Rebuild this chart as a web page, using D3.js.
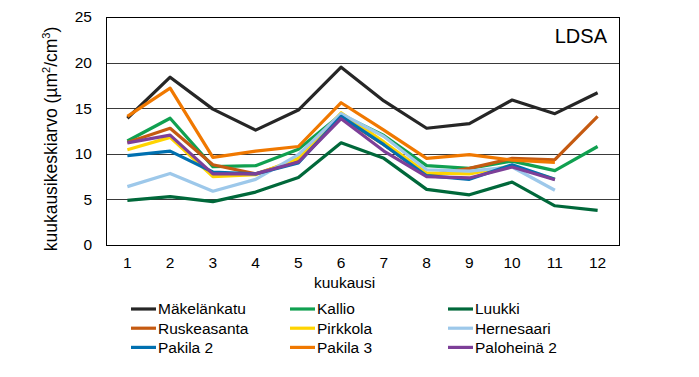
<!DOCTYPE html>
<html>
<head>
<meta charset="utf-8">
<script src="https://cdn.jsdelivr.net/npm/d3@7"></script>
<style>
  body { margin: 0; background: #fff; }
  text { font-family: "Liberation Sans", Arial, sans-serif; fill: #000; }
</style>
</head>
<body>
<div id="chart"></div>
<script>
// monthly means, LDSA (um2/cm3)
var months = [ 1, 2, 3, 4, 5, 6, 7, 8, 9, 10, 11, 12 ];
var yTicks = [ 0, 5, 10, 15, 20, 25 ];

var makelankatu = [ 13.9, 18.4, 14.9, 12.6, 14.8, 19.5, 15.8, 12.8, 13.3, 15.9, 14.4, 16.7 ];
var kallio      = [ 11.4, 13.9, 8.6, 8.7, 10.5, 14.3, 12.0, 8.7, 8.4, 9.2, 8.15, 10.8 ];
var luukki      = [ 4.9, 5.3, 4.75, 5.8, 7.4, 11.2, 9.5, 6.1, 5.5, 6.9, 4.3, 3.8 ];
var ruskeasanta = [ 11.25, 12.8, 8.8, 7.8, 9.3, 14.0, 11.0, 7.6, 8.4, 9.5, 9.35, 14.1 ];
var pirkkola    = [ 10.45, 11.8, 7.5, 7.7, 9.5, 14.5, 11.3, 7.9, 7.8, 8.7, 7.2, null ];
var hernesaari  = [ 6.4, 7.85, 5.9, 7.2, 9.9, 14.4, 11.9, 8.25, 8.1, 8.55, 6.0, null ];
var pakila2     = [ 9.8, 10.3, 8.0, 7.8, 9.0, 14.1, 11.0, 7.6, 7.2, 8.8, 7.2, null ];
var pakila3     = [ 14.1, 17.2, 9.6, 10.3, 10.8, 15.6, 12.6, 9.5, 9.9, 9.3, 9.05, null ];
var paloheina2  = [ 11.2, 12.05, 7.8, 7.8, 9.1, 13.85, 10.3, 7.5, 7.35, 8.55, 7.15, null ];

var seriesNames = [ "Mäkelänkatu", "Kallio", "Luukki", "Ruskeasanta", "Pirkkola", "Hernesaari", "Pakila 2", "Pakila 3", "Paloheinä 2" ];
var seriesValues = [ makelankatu, kallio, luukki, ruskeasanta, pirkkola, hernesaari, pakila2, pakila3, paloheina2 ];
var seriesColors = [ "#262626", "#10a050", "#00683a", "#c55a11", "#ffd400", "#9dc8ea", "#0070b0", "#f07800", "#7d3f98" ];

var width = 699, height = 377;
var margin = { top: 17, right: 80, bottom: 132, left: 106 };
var innerWidth = width - margin.left - margin.right,
  innerHeight = height - margin.top - margin.bottom;

var svg = d3.select( "#chart" ).append( "svg" )
  .attr( "width", width )
  .attr( "height", height );

var g = svg.append( "g" )
  .attr( "transform", "translate(" + margin.left + "," + margin.top + ")" );

var x = d3.scaleBand().domain( months ).range( [ 0, innerWidth ] );
var y = d3.scaleLinear().domain( [ 0, 25 ] ).range( [ innerHeight, 0 ] );

// gridlines
g.selectAll( ".grid" )
  .data( yTicks.filter( d => d > 0 && d < 25 ) )
  .enter().append( "line" )
    .attr( "class", "grid" )
    .attr( "x1", 0 )
    .attr( "x2", innerWidth )
    .attr( "y1", d => Math.round( y( d ) ) + 0.5 )
    .attr( "y2", d => Math.round( y( d ) ) + 0.5 )
    .style( "stroke", "#3a3a3a" )
    .style( "stroke-width", 1 );

// y tick labels
g.selectAll( ".ylab" )
  .data( yTicks )
  .enter().append( "text" )
    .attr( "class", "ylab" )
    .attr( "x", -14 )
    .attr( "y", d => y( d ) )
    .attr( "dy", "0.35em" )
    .attr( "text-anchor", "end" )
    .style( "font-size", "15.5px" )
    .text( d => d );

// x tick labels
g.selectAll( ".xlab" )
  .data( months )
  .enter().append( "text" )
    .attr( "class", "xlab" )
    .attr( "x", d => x( d ) + x.bandwidth() / 2 )
    .attr( "y", innerHeight + 23 )
    .attr( "text-anchor", "middle" )
    .style( "font-size", "15.5px" )
    .text( d => d );

// axis titles
g.append( "text" )
  .attr( "x", innerWidth / 2 - 18 )
  .attr( "y", innerHeight + 43 )
  .attr( "text-anchor", "middle" )
  .style( "font-size", "15.5px" )
  .text( "kuukausi" );

svg.append( "text" )
  .attr( "transform", "translate(57,139) rotate(-90)" )
  .attr( "text-anchor", "middle" )
  .style( "font-size", "17.5px" )
  .html( "kuukausikeskiarvo (µm<tspan dy='-7' style='font-size:11px'>2</tspan><tspan dy='7'>/cm</tspan><tspan dy='-7' style='font-size:11px'>3</tspan><tspan dy='7'>)</tspan>" );

// lines
var line = d3.line()
  .defined( d => d[ 1 ] != null )
  .x( d => x( d[ 0 ] ) + x.bandwidth() / 2 )
  .y( d => y( d[ 1 ] ) );

g.selectAll( ".series" )
  .data( seriesValues )
  .enter().append( "path" )
    .attr( "class", "series" )
    .attr( "d", vals => line( vals.map( ( v, i ) => [ months[ i ], v ] ) ) )
    .style( "fill", "none" )
    .style( "stroke", ( d, i ) => seriesColors[ i ] )
    .style( "stroke-width", 3.2 )
    .style( "stroke-linejoin", "round" );

// plot frame
g.append( "rect" )
  .attr( "x", 0.5 )
  .attr( "y", 0.5 )
  .attr( "width", innerWidth )
  .attr( "height", innerHeight )
  .style( "fill", "none" )
  .style( "stroke", "#000" )
  .style( "stroke-width", 1 );

g.append( "text" )
  .attr( "x", innerWidth - 12 )
  .attr( "y", 26 )
  .attr( "text-anchor", "end" )
  .style( "font-size", "20px" )
  .text( "LDSA" );

// legend, 3 per row
var legend = svg.append( "g" ).attr( "transform", "translate(131,309)" );
var item = legend.selectAll( ".item" )
  .data( seriesNames )
  .enter().append( "g" )
    .attr( "class", "item" )
    .attr( "transform", ( d, i ) => "translate(" + [ 0, 159, 317 ][ i % 3 ] + "," + Math.floor( i / 3 ) * 19.2 + ")" );

item.append( "line" )
  .attr( "x1", 0 )
  .attr( "x2", 25 )
  .attr( "y1", 0 )
  .attr( "y2", 0 )
  .style( "stroke", ( d, i ) => seriesColors[ i ] )
  .style( "stroke-width", 3.2 );

item.append( "text" )
  .attr( "x", 27 )
  .attr( "y", 0 )
  .attr( "dy", "0.35em" )
  .style( "font-size", "15.5px" )
  .text( d => d );
</script>
</body>
</html>
